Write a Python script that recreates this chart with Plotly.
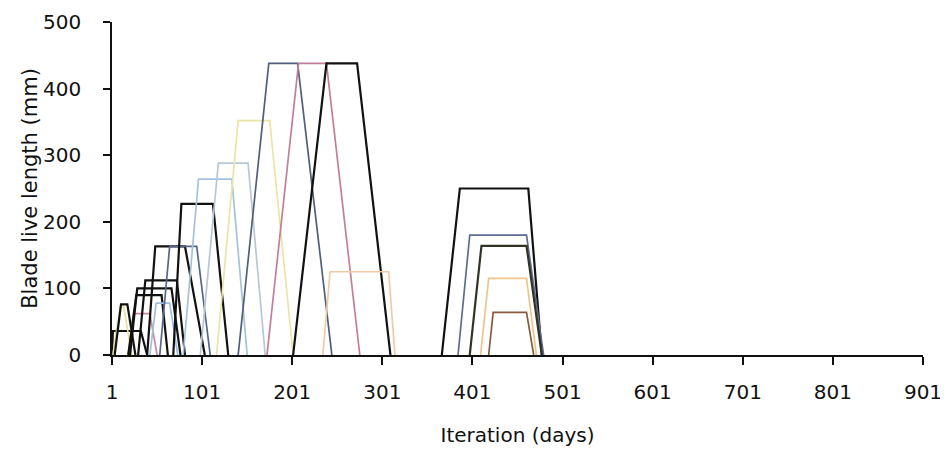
import plotly.graph_objects as go

# Each blade: rise start, full length reached, senescence start, fully dead (days) and peak live length (mm)
blade_rise_start = [1, 2, 4, 19, 19, 21, 30, 43, 40, 54, 69, 80, 99, 117, 141, 173, 202, 235, 367, 385, 398, 410, 419]
blade_full_day   = [2, 10, 11, 25, 28, 29, 38, 50, 49, 65, 78, 97, 119, 141, 175, 208, 239, 243, 387, 398, 411, 419, 424]
blade_sen_day    = [33, 14, 18, 43, 56, 67, 73, 65, 82, 95, 113, 134, 152, 176, 207, 239, 273, 308, 463, 461, 461, 461, 461]
blade_dead_day   = [40, 23, 27, 51, 63, 77, 82, 74, 104, 110, 130, 151, 171, 202, 245, 276, 310, 315, 478, 480, 478, 472, 469]
blade_peak_mm    = [36, 72, 76, 62, 90, 100, 112, 78, 163, 163, 227, 264, 288, 352, 438, 438, 438, 125, 250, 180, 164, 115, 64]
blade_colors = ["#111111", "#e6e29c", "#111111", "#c7899f", "#111111", "#111111", "#111111", "#9fbfdc",
                "#111111", "#56678a", "#111111", "#a3c2de", "#b7c7d8", "#e9e6a4", "#4f5f7c", "#c27f9b",
                "#111111", "#f1c9a5", "#111111", "#5e6d8e", "#333322", "#f0c58a", "#8b5a3c"]

x_tick_vals = [1, 101, 201, 301, 401, 501, 601, 701, 801, 901]
y_tick_vals = [0, 100, 200, 300, 400, 500]

fig = go.Figure()
for i in range(len(blade_peak_mm)):
    xs = [blade_rise_start[i], blade_full_day[i], blade_sen_day[i], blade_dead_day[i]]
    ys = [0, blade_peak_mm[i], blade_peak_mm[i], 0]
    dark = blade_colors[i] in ("#111111", "#333322")
    fig.add_trace(go.Scatter(x=xs, y=ys, mode="lines",
                             line=dict(color=blade_colors[i], width=2.2 if dark else 1.7),
                             showlegend=False, hoverinfo="skip"))

font_family = "DejaVu Sans"
fig.update_layout(
    width=948, height=456,
    margin=dict(l=104, r=33, t=14, b=109, autoexpand=False),
    paper_bgcolor="white", plot_bgcolor="white",
    font=dict(family=font_family, size=20, color="#111111"),
    xaxis=dict(range=[1, 901], tickvals=x_tick_vals, ticktext=[str(v) for v in x_tick_vals],
               showgrid=False, zeroline=False, showline=True, linecolor="#111111", linewidth=2,
               ticks="outside", ticklen=8, tickcolor="#111111", tickwidth=1.5,
               ticklabelstandoff=10, automargin=False,
               title=dict(text="Iteration (days)", standoff=25, font=dict(size=20))),
    yaxis=dict(range=[0, 500], tickvals=y_tick_vals,
               showgrid=False, zeroline=False, showline=True, linecolor="#111111", linewidth=1.5,
               ticks="outside", ticklen=7, tickcolor="#111111", tickwidth=1.5,
               ticklabelstandoff=18, automargin=False,
               title=dict(text="Blade live length (mm)", standoff=0, font=dict(size=21))),
)
fig.write_html("out.html")
